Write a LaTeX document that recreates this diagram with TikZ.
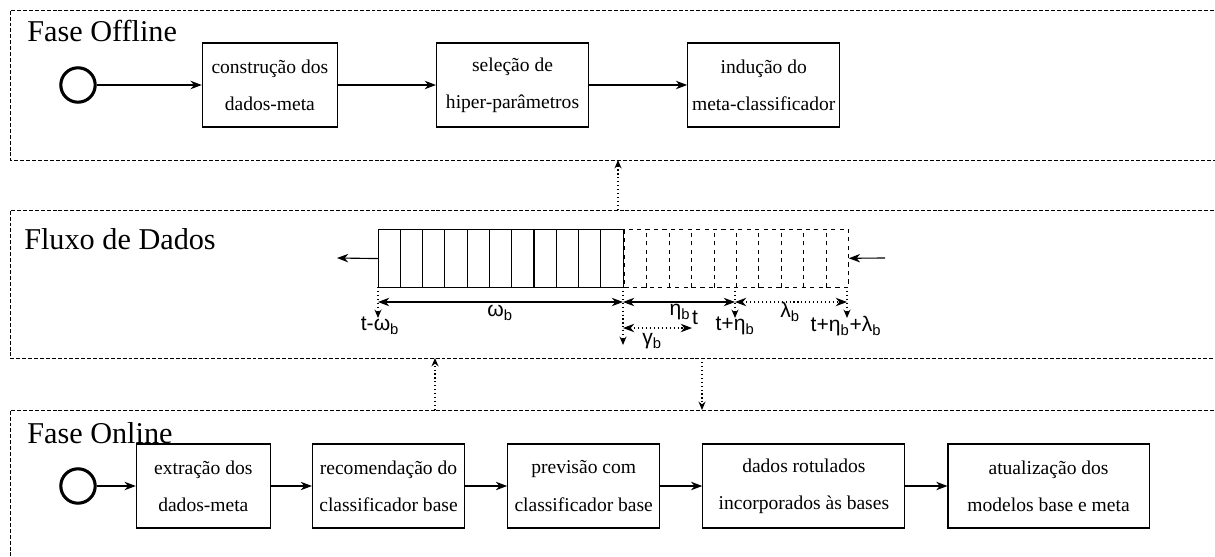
\documentclass[tikz,border=0pt]{standalone}
\usepackage{fontspec}
\setmainfont{Liberation Serif}
\newfontfamily\fluxofont{Liberation Sans}
\usetikzlibrary{positioning,arrows.meta}

\tikzset{
    etapa/.style={draw, thick, rectangle, minimum height=2.1cm, align=center, inner sep=0pt,
        font=\fontsize{13.9}{26.5}\selectfont},
    inicio/.style={draw, line width=2.2pt, circle, minimum size=0.86cm, inner sep=0pt},
    fase/.style={anchor=base west, inner sep=0pt, font=\fontsize{21.5}{24}\selectfont},
    moldura/.style={dash pattern=on 2.8pt off 1.4pt, line width=0.6pt},
    seta/.style={-{Stealth[length=8pt, width=6pt, inset=2.5pt]}, thick},
    pontos/.style={-{Stealth[length=6pt, width=5pt, inset=2pt]}, dotted, thick},
    medida/.style={{Stealth[length=8pt, width=6pt, inset=2.5pt]}-{Stealth[length=8pt, width=6pt, inset=2.5pt]}, thick},
    rotulo/.style={inner sep=0pt, font=\fluxofont\fontsize{15}{15}\selectfont}
}

\begin{document}
\begin{tikzpicture}[x=0.025cm, y=-0.025cm]
    \useasboundingbox (0,0) rectangle (1215,557);

    % molduras das fases
    \draw[moldura] (1220,10) -| (10,160) -- (1220,160);
    \draw[moldura] (1220,210) -| (10,358) -- (1220,358);
    \draw[moldura] (1220,410) -| (10,565);
    \node[fase] (offline) at (27,42) {Fase Offline};
    \node[fase] (fluxo) at (24,249) {Fluxo de Dados};
    \node[fase] (online) at (27,443) {Fase Online};

    % fase offline
    \node[inicio] (ini1) at (78,85) {};
    \node[etapa, minimum width=3.375cm, right=2.625cm of ini1] (construcao) {construção dos\\dados-meta};
    \node[etapa, minimum width=3.8cm, right=2.45cm of construcao] (selecao) {seleção de\\hiper-parâmetros};
    \node[etapa, minimum width=3.8cm, right=2.45cm of selecao] (inducao) {indução do\\meta-classificador};
    \draw[seta] (ini1) -- (construcao);
    \draw[seta] (construcao) -- (selecao);
    \draw[seta] (selecao) -- (inducao);

    % fluxo de dados
    \node[draw, thick, minimum width=6.125cm, minimum height=1.45cm, inner sep=0pt, anchor=north west] (passado) at (378,229) {};
    \node[draw, dashed, minimum width=5.6cm, minimum height=1.45cm, inner sep=0pt, anchor=north west] (futuro) at (passado.north east) {};
    \foreach \i in {1,...,10}
        \draw[thick] ([xshift=\i*0.5568cm]passado.south west) -- ([xshift=\i*0.5568cm]passado.north west);
    \foreach \i in {1,...,9}
        \draw[dashed] ([xshift=\i*0.56cm]futuro.south west) -- ([xshift=\i*0.56cm]futuro.north west);
    \coordinate (saida) at (337,258);
    \coordinate (entrada) at (885,258);
    \draw[seta] (passado.west) -- (saida);
    \draw[seta] (entrada) -- (futuro.east);

    % marcas de tempo
    \coordinate (m0) at (378,287);
    \coordinate (m1) at (623,287);
    \coordinate (m2) at (735,287);
    \coordinate (m3) at (847,287);
    \draw[pontos] (m0) -- +(0,31);
    \draw[pontos] (m1) -- +(0,58);
    \draw[pontos] (m2) -- +(0,31);
    \draw[pontos] (m3) -- +(0,31);
    \draw[medida] ([yshift=-0.375cm]m0) -- ([yshift=-0.375cm]m1);
    \draw[medida] ([yshift=-0.375cm]m1) -- ([yshift=-0.375cm]m2);
    \draw[medida, dotted] ([yshift=-0.375cm]m2) -- ([yshift=-0.375cm]m3);
    \draw[medida, dotted] ([yshift=-1.025cm]m1) -- ++(69,0);
    \node[rotulo] (tomega) at (380,326) {t-ω\textsubscript{b}};
    \node[rotulo] (omega) at (500,313) {ω\textsubscript{b}};
    \node[rotulo] (eta) at (680,312) {η\textsubscript{b}};
    \node[rotulo] (tt) at (695,318) {t};
    \node[rotulo] (gamma) at (652,341) {γ\textsubscript{b}};
    \node[rotulo] (teta) at (735,326) {t+η\textsubscript{b}};
    \node[rotulo] (lambda) at (790,312) {λ\textsubscript{b}};
    \node[rotulo] (tlambda) at (846,326) {t+η\textsubscript{b}+λ\textsubscript{b}};

    % ligacoes entre as fases
    \draw[pontos] (618,210) -- (618,160);
    \draw[pontos] (435,410) -- (435,358);
    \draw[pontos] (702,358) -- (702,410);

    % fase online
    \node[inicio] (ini2) at (78,486) {};
    \node[etapa, minimum width=3.35cm, right=0.975cm of ini2] (extracao) {extração dos\\dados-meta};
    \node[etapa, minimum width=3.8cm, right=1.025cm of extracao] (recomendacao) {recomendação do\\classificador base};
    \node[etapa, minimum width=3.8cm, right=1.05cm of recomendacao] (previsao) {previsão com\\classificador base};
    \node[etapa, minimum width=5.05cm, right=1.05cm of previsao] (rotulados) {dados rotulados\\incorporados às bases};
    \node[etapa, minimum width=5.025cm, right=1.05cm of rotulados] (atualizacao) {atualização dos\\modelos base e meta};
    \draw[seta] (ini2) -- (extracao);
    \draw[seta] (extracao) -- (recomendacao);
    \draw[seta] (recomendacao) -- (previsao);
    \draw[seta] (previsao) -- (rotulados);
    \draw[seta] (rotulados) -- (atualizacao);
\end{tikzpicture}
\end{document}
